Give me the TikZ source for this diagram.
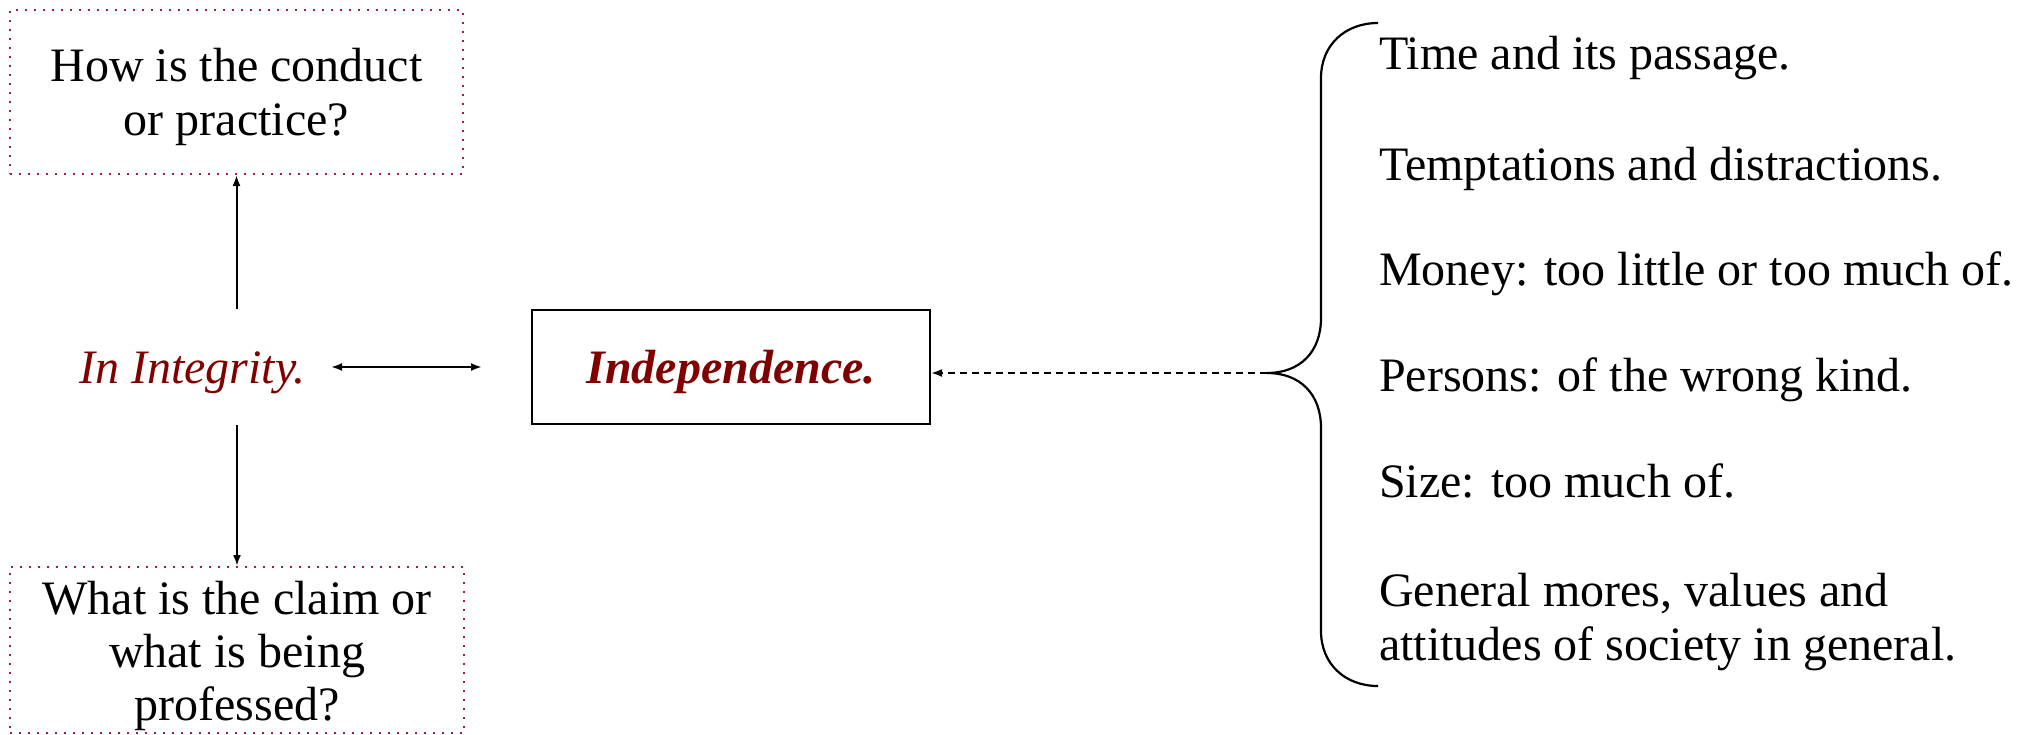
\documentclass[tikz,border=0pt]{standalone}
\usepackage{fontspec}
\setmainfont{Liberation Serif}
\usetikzlibrary{arrows.meta,calc}
\definecolor{deepred}{RGB}{128,0,0}
\definecolor{dotred}{RGB}{160,30,70}

\begin{document}
\begin{tikzpicture}[x=1pt,y=-1pt,
  qbox/.style={draw=dotred, line width=2pt, dash pattern=on 2pt off 7pt,
    align=center, inner sep=0pt},
  item/.style={anchor=base west, inner sep=0pt, align=left,
    font=\fontsize{48}{54}\selectfont},
  conn/.style={line width=2pt, -{Latex[length=11pt,width=8pt]}},
]
\useasboundingbox (0,0) rectangle (2019,734);

% question boxes
\node[qbox, minimum width=453pt, minimum height=164pt,
  text height=96pt, text depth=10pt,
  font=\fontsize{48}{54}\selectfont] (q1) at (236.5,92)
  {How is the conduct\\or practice?};
\node[qbox, minimum width=454pt, minimum height=166pt,
  text height=151pt, text depth=10pt,
  font=\fontsize{48}{53}\selectfont] (q2) at (237,650)
  {What is the claim or\\what is being\\professed?};

% central terms
\node[minimum height=116pt, inner xsep=25pt, inner ysep=0pt,
  text height=38pt, text depth=6pt, text=deepred,
  font=\fontsize{48}{54}\selectfont\itshape] (integ) at (192.5,367) {In Integrity.};
\node[draw, line width=2pt, minimum width=398pt, minimum height=114pt,
  text height=38pt, text depth=5pt, text=deepred,
  font=\fontsize{48}{54}\selectfont\bfseries\itshape]
  (indep) at (731,367) {Independence.};

% connectors
\draw[conn] (q1.south |- integ.north) -- (q1.south);
\draw[conn] (q2.north |- integ.south) -- (q2.north);
\draw[conn, {Latex[length=11pt,width=8pt]}-{Latex[length=11pt,width=8pt]},
  shorten >=49pt] (integ.east) -- (indep.west);

% brace gathering the influences
\coordinate (tip) at (1267,373);
\draw[line width=2.2pt] (1378,23) .. controls (1345,23) and (1321,45) .. (1321,78)
  -- (1321,318) .. controls (1321,352) and (1300,373) .. (tip)
  .. controls (1300,373) and (1321,394) .. (1321,428)
  -- (1321,631) .. controls (1321,664) and (1345,686) .. (1378,686);
\draw[conn, dash pattern=on 7pt off 5pt] (tip) -- (tip -| indep.east);

% list of influences
\node[item] (i1) at (1379,69) {Time and its passage.};
\node[item] (i2) at (1379,180) {Temptations and distractions.};
\node[item] (i3) at (1379,285) {Money: too little or too much of.};
\node[item] (i4) at (1379,391) {Persons: of the wrong kind.};
\node[item] (i5) at (1379,497) {Size: too much of.};
\node[item] (i6) at (1379,660) {General mores, values and\\attitudes of society in general.};
\end{tikzpicture}
\end{document}
